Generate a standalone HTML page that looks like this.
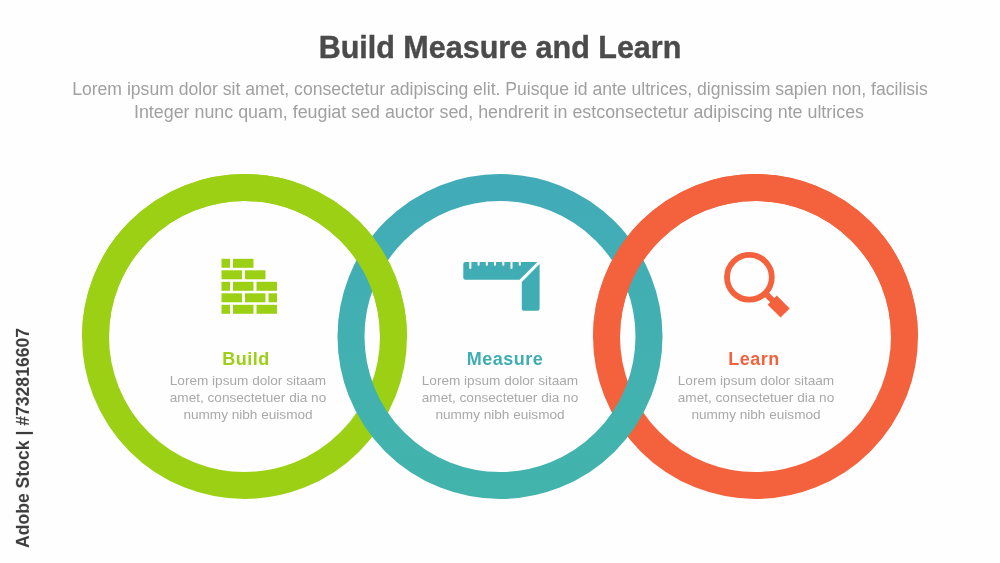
<!DOCTYPE html>
<html><head><meta charset="utf-8">
<style>
html,body{margin:0;padding:0;}
body{width:1000px;height:563px;overflow:hidden;background:#fefefe;position:relative;font-family:"Liberation Sans",sans-serif;}
svg.bg{position:absolute;left:0;top:0;}
.t{position:absolute;white-space:nowrap;will-change:transform;}
#title{left:0;width:1000px;text-align:center;top:29.4px;font-size:30.5px;font-weight:bold;color:#4b4b4b;line-height:36px;-webkit-text-stroke:0.4px #4b4b4b;}
.sub{left:0;width:1000px;text-align:center;font-size:17.6px;color:#a0a0a0;line-height:20px;}
#sub1{top:79px;}
#sub2{top:102px;font-size:17.85px;left:-1px;}
.head{width:200px;text-align:center;font-size:18px;font-weight:bold;line-height:20px;top:349px;letter-spacing:0.5px;}
.body{width:200px;text-align:center;font-size:13.6px;color:#a9a9a9;line-height:17.1px;top:372.3px;white-space:nowrap;}
#stock{left:0;top:0;font-size:17.6px;line-height:20px;font-weight:bold;color:#3d3d3d;transform-origin:0 0;}
</style></head>
<body>
<svg class="bg" width="1000" height="563" viewBox="0 0 1000 563">
  <defs>
    <clipPath id="top"><rect x="0" y="0" width="1000" height="336.5"/></clipPath>
    <linearGradient id="tg" gradientUnits="userSpaceOnUse" x1="0" y1="174" x2="0" y2="499"><stop offset="0" stop-color="#41abb8"/><stop offset="0.5" stop-color="#42b0b1"/><stop offset="1" stop-color="#42b4ab"/></linearGradient>
  </defs>
  <g fill="none" stroke-width="27">
    <circle cx="244.5" cy="336.5" r="149" stroke="#9bd014"/>
    <circle cx="755.5" cy="336.5" r="149" stroke="#f3623c"/>
    <circle cx="500" cy="336.5" r="149" stroke="url(#tg)"/>
    <g clip-path="url(#top)">
      <circle cx="244.5" cy="336.5" r="149" stroke="#9bd014"/>
      <circle cx="755.5" cy="336.5" r="149" stroke="#f3623c"/>
    </g>
  </g>
  <g fill="#9bd014">
<rect x="221.5" y="258.8" width="8.5" height="9"/>
<rect x="233" y="258.8" width="20.5" height="9"/>
<rect x="221.5" y="270.3" width="20.5" height="9"/>
<rect x="245" y="270.3" width="20.5" height="9"/>
<rect x="221.5" y="281.8" width="8.5" height="9"/>
<rect x="233" y="281.8" width="20.5" height="9"/>
<rect x="256.5" y="281.8" width="20.5" height="9"/>
<rect x="221.5" y="293.3" width="20.5" height="9"/>
<rect x="245" y="293.3" width="20.5" height="9"/>
<rect x="268.5" y="293.3" width="8.5" height="9"/>
<rect x="221.5" y="304.8" width="8.5" height="9"/>
<rect x="233" y="304.8" width="20.5" height="9"/>
<rect x="256.5" y="304.8" width="20.5" height="9"/>
  </g>
  <g fill="#40adb4">
    <path d="M463.3,263.9 Q463.3,261.9 465.3,261.9 L537.4,261.9 L519.6,279.7 L465.3,279.7 Q463.3,279.7 463.3,277.7 Z"/>
    <path d="M539.6,264.1 L539.6,308.7 Q539.6,310.7 537.6,310.7 L523.8,310.7 Q521.8,310.7 521.8,308.7 L521.8,281.9 Z"/>
  </g>
  <g fill="#fefefe">
    <rect x="469.25" y="261" width="2.1" height="7.9" rx="1"/>
    <rect x="477.55" y="261" width="2.1" height="4.7" rx="1"/>
    <rect x="485.75" y="261" width="2.1" height="4.7" rx="1"/>
    <rect x="493.95" y="261" width="2.1" height="4.7" rx="1"/>
    <rect x="502.25" y="261" width="2.1" height="4.7" rx="1"/>
    <rect x="510.45" y="261" width="2.1" height="7.9" rx="1"/>
    <rect x="518.75" y="261" width="2.1" height="4.7" rx="1"/>
  </g>
  <g fill="#f3623c">
    <circle cx="749.4" cy="277.3" r="22.4" fill="none" stroke="#f3623c" stroke-width="5.8"/>
    <g transform="translate(749.4,277.3) rotate(45)">
      <rect x="22" y="-2.9" width="12" height="5.8"/>
      <rect x="32.3" y="-6.45" width="18.2" height="12.9"/>
    </g>
  </g>
</svg>
<div id="title" class="t">Build Measure and Learn</div>
<div id="sub1" class="t sub">Lorem ipsum dolor sit amet, consectetur adipiscing elit. Puisque id ante ultrices, dignissim sapien non, facilisis</div>
<div id="sub2" class="t sub">Integer nunc quam, feugiat sed auctor sed, hendrerit in estconsectetur adipiscing nte ultrices</div>

<div class="t head" style="left:146.4px;color:#9bd014">Build</div>
<div class="t body" style="left:148.4px">Lorem ipsum dolor sitaam<br>amet, consectetuer dia no<br>nummy nibh euismod</div>
<div class="t head" style="left:405.4px;color:#40adb4">Measure</div>
<div class="t body" style="left:400px">Lorem ipsum dolor sitaam<br>amet, consectetuer dia no<br>nummy nibh euismod</div>
<div class="t head" style="left:653.8px;color:#f3623c">Learn</div>
<div class="t body" style="left:655.9px">Lorem ipsum dolor sitaam<br>amet, consectetuer dia no<br>nummy nibh euismod</div>

<div id="stock" class="t" style="transform:translate(12.9px,548px) rotate(-90deg)">Adobe Stock | #732816607</div>
</body></html>
